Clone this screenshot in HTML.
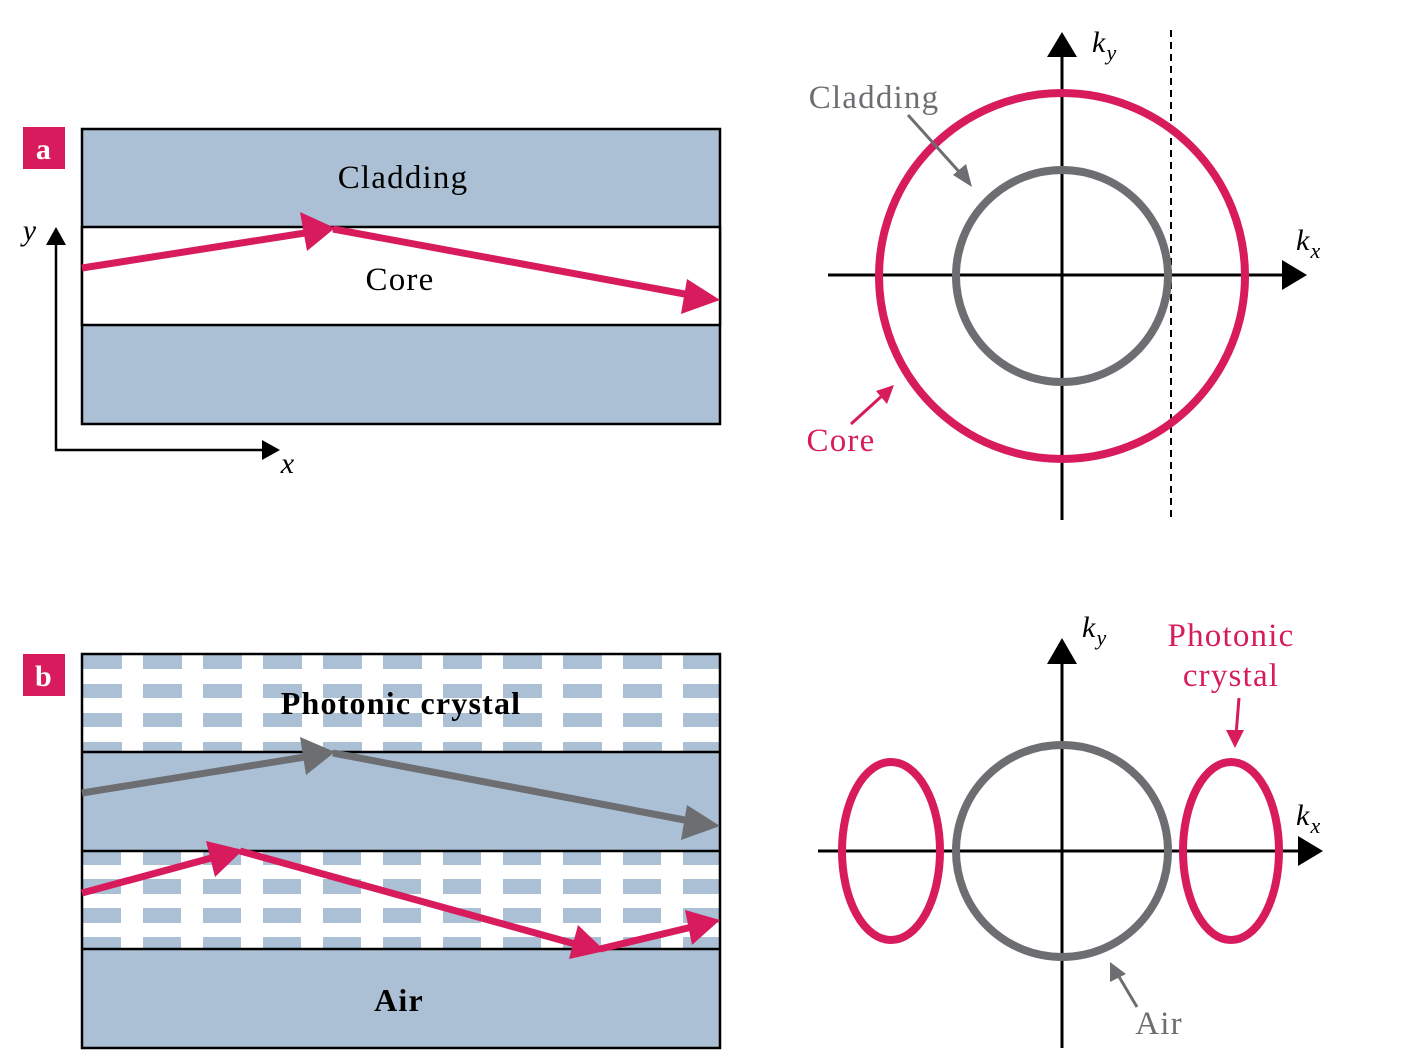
<!DOCTYPE html>
<html><head><style>body{margin:0;background:#fff}svg{display:block}text{letter-spacing:1.2px}</style></head><body>
<svg width="1411" height="1062" viewBox="0 0 1411 1062" xmlns="http://www.w3.org/2000/svg" font-family="Liberation Serif, serif">
<defs>
<pattern id="pc1" x="83" y="655" width="60" height="29" patternUnits="userSpaceOnUse"><rect x="0" y="0" width="39" height="14" fill="#abc0d5"/></pattern>
<pattern id="pc2" x="83" y="850" width="60" height="29" patternUnits="userSpaceOnUse"><rect x="0" y="0" width="38" height="15" fill="#abc0d5"/></pattern>
</defs>
<rect x="23" y="127" width="42" height="42" fill="#d81b5c"/>
<text x="44" y="159" font-size="30" font-weight="bold" fill="#fff" text-anchor="middle">a</text>
<rect x="82" y="129" width="638" height="295" fill="#abc0d5" stroke="#000" stroke-width="2.5"/>
<rect x="82" y="227" width="638" height="98" fill="#fff" stroke="#000" stroke-width="2.5"/>
<text x="403" y="188" font-size="33" text-anchor="middle">Cladding</text>
<text x="400" y="290" font-size="33" text-anchor="middle">Core</text>
<line x1="82" y1="268" x2="305" y2="233" stroke="#d81b5c" stroke-width="7"/>
<polygon points="335,228 300,212 307,251" fill="#d81b5c"/>
<line x1="333" y1="229" x2="690" y2="295" stroke="#d81b5c" stroke-width="7"/>
<polygon points="720,300 687,279 681,314" fill="#d81b5c"/>
<polyline points="56,240 56,450 265,450" fill="none" stroke="#000" stroke-width="2.5"/>
<polygon points="46,245 66,245 56,227" fill="#000"/>
<polygon points="262,440 262,460 280,450" fill="#000"/>
<text x="30" y="240" font-size="30" font-style="italic" text-anchor="middle">y</text>
<text x="288" y="473" font-size="30" font-style="italic" text-anchor="middle">x</text>
<line x1="1062" y1="520" x2="1062" y2="55" stroke="#000" stroke-width="3"/>
<polygon points="1047,57 1077,57 1062,32" fill="#000"/>
<line x1="828" y1="275" x2="1285" y2="275" stroke="#000" stroke-width="3"/>
<polygon points="1282,260 1282,290 1307,275" fill="#000"/>
<line x1="1171" y1="30" x2="1171" y2="522" stroke="#000" stroke-width="2" stroke-dasharray="7,5"/>
<circle cx="1062" cy="276" r="183" fill="none" stroke="#d81b5c" stroke-width="8"/>
<circle cx="1062" cy="276" r="106" fill="none" stroke="#6d6e71" stroke-width="8"/>
<text x="1092" y="52" font-size="30" font-style="italic">k<tspan font-size="22" dy="8">y</tspan></text>
<text x="1296" y="250" font-size="30" font-style="italic">k<tspan font-size="22" dy="8">x</tspan></text>
<text x="874" y="108" font-size="33" fill="#6d6e71" text-anchor="middle">Cladding</text>
<line x1="908" y1="115" x2="962" y2="175" stroke="#6d6e71" stroke-width="3"/>
<polygon points="972,187 953,175 966,164" fill="#6d6e71"/>
<text x="841" y="451" font-size="33" fill="#d81b5c" text-anchor="middle">Core</text>
<line x1="851" y1="424" x2="884" y2="394" stroke="#d81b5c" stroke-width="3"/>
<polygon points="894,385 876,391 887,404" fill="#d81b5c"/>
<rect x="23" y="654" width="42" height="42" fill="#d81b5c"/>
<text x="44" y="686" font-size="30" font-weight="bold" fill="#fff" text-anchor="middle">b</text>
<rect x="82" y="654" width="638" height="98" fill="#fff"/>
<rect x="82" y="654" width="638" height="98" fill="url(#pc1)"/>
<rect x="82" y="752" width="638" height="99" fill="#abc0d5"/>
<rect x="82" y="851" width="638" height="98" fill="#fff"/>
<rect x="82" y="851" width="638" height="98" fill="url(#pc2)"/>
<rect x="82" y="949" width="638" height="99" fill="#abc0d5"/>
<rect x="82" y="654" width="638" height="394" fill="none" stroke="#000" stroke-width="2.5"/>
<line x1="82" y1="752" x2="720" y2="752" stroke="#000" stroke-width="2.5"/>
<line x1="82" y1="851" x2="720" y2="851" stroke="#000" stroke-width="2.5"/>
<line x1="82" y1="949" x2="720" y2="949" stroke="#000" stroke-width="2.5"/>
<text x="401" y="714" font-size="32" font-weight="bold" text-anchor="middle">Photonic crystal</text>
<text x="399" y="1011" font-size="32" font-weight="bold" text-anchor="middle">Air</text>
<line x1="82" y1="793" x2="305" y2="757" stroke="#6d6e71" stroke-width="7"/>
<polygon points="335,752 300,737 306,775" fill="#6d6e71"/>
<line x1="333" y1="753" x2="690" y2="821" stroke="#6d6e71" stroke-width="7"/>
<polygon points="720,826 687,805 681,840" fill="#6d6e71"/>
<line x1="82" y1="893" x2="215" y2="857" stroke="#d81b5c" stroke-width="7"/>
<polygon points="243,850 206,841 215,877" fill="#d81b5c"/>
<line x1="240" y1="851" x2="575" y2="944" stroke="#d81b5c" stroke-width="7"/>
<polygon points="605,951 578,925 569,959" fill="#d81b5c"/>
<line x1="600" y1="949" x2="692" y2="927" stroke="#d81b5c" stroke-width="7"/>
<polygon points="720,920 685,910 692,945" fill="#d81b5c"/>
<line x1="1062" y1="1048" x2="1062" y2="660" stroke="#000" stroke-width="3"/>
<polygon points="1047,664 1077,664 1062,638" fill="#000"/>
<line x1="818" y1="851" x2="1300" y2="851" stroke="#000" stroke-width="3"/>
<polygon points="1298,836 1298,866 1323,851" fill="#000"/>
<circle cx="1062" cy="851" r="106" fill="none" stroke="#6d6e71" stroke-width="8"/>
<ellipse cx="891" cy="851" rx="49" ry="89" fill="none" stroke="#d81b5c" stroke-width="8"/>
<ellipse cx="1231" cy="851" rx="48" ry="89" fill="none" stroke="#d81b5c" stroke-width="8"/>
<text x="1082" y="637" font-size="30" font-style="italic">k<tspan font-size="22" dy="8">y</tspan></text>
<text x="1296" y="825" font-size="30" font-style="italic">k<tspan font-size="22" dy="8">x</tspan></text>
<text x="1231" y="646" font-size="33" fill="#d81b5c" text-anchor="middle">Photonic</text>
<text x="1231" y="686" font-size="33" fill="#d81b5c" text-anchor="middle">crystal</text>
<line x1="1239" y1="698" x2="1236" y2="735" stroke="#d81b5c" stroke-width="3"/>
<polygon points="1226,730 1244,730 1235,748" fill="#d81b5c"/>
<text x="1159" y="1034" font-size="33" fill="#6d6e71" text-anchor="middle">Air</text>
<line x1="1137" y1="1007" x2="1118" y2="975" stroke="#6d6e71" stroke-width="3"/>
<polygon points="1110,962 1110,982 1126,974" fill="#6d6e71"/>
</svg>
</body></html>
